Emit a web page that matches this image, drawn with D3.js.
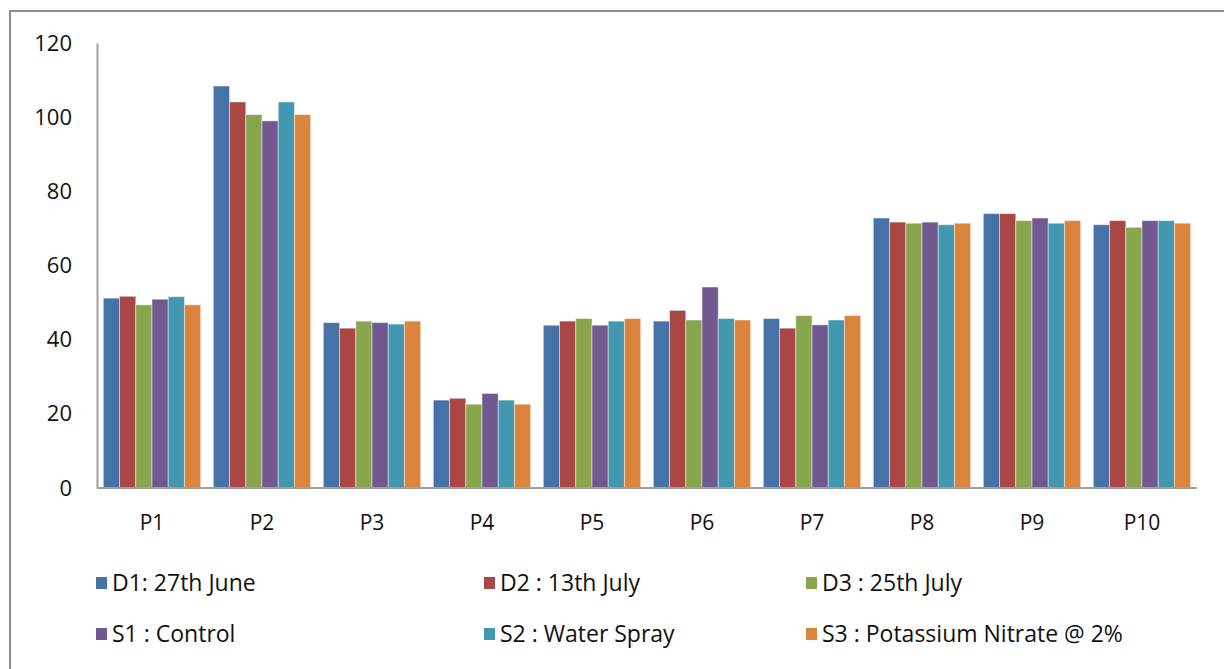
<!DOCTYPE html>
<html>
<head>
<meta charset="utf-8">
<script src="https://cdn.jsdelivr.net/npm/d3@7/dist/d3.min.js"></script>
<style>
	body { margin:0; background:#fff; }
	svg text { font-family: "Open Sans", "Liberation Sans", sans-serif; fill:#111; }
</style>
</head>
<body>
<svg id="CHART" width="1224" height="669"></svg>
<script>
// categories / series
var categories = ["P1","P2","P3","P4","P5","P6","P7","P8","P9","P10"];
var seriesNames = ["D1: 27th June","D2 : 13th July","D3 : 25th July","S1 : Control","S2 : Water Spray","S3 : Potassium Nitrate @ 2%"];
var seriesColors = ["#4572A7","#AA4643","#89A54E","#71588F","#4198AF","#DB843D"];
var yTicks = [0,20,40,60,80,100,120];

// (named valD1.. so the D3 series does not shadow the d3 library)
var valD1 = [51.2, 108.4, 44.6, 23.7, 43.9, 45.0, 45.7, 72.8, 74.0, 71.0];
var valD2 = [51.7, 104.1, 43.1, 24.2, 45.0, 47.9, 43.1, 71.7, 74.0, 72.1];
var valD3 = [49.4, 100.7, 45.0, 22.6, 45.7, 45.3, 46.5, 71.4, 72.1, 70.3];
var valS1 = [50.9, 99.0, 44.6, 25.5, 43.9, 54.2, 44.0, 71.7, 72.8, 72.1];
var valS2 = [51.6, 104.1, 44.2, 23.7, 45.0, 45.7, 45.3, 71.0, 71.4, 72.1];
var valS3 = [49.4, 100.7, 45.0, 22.6, 45.7, 45.3, 46.5, 71.4, 72.1, 71.4];
var seriesValues = [valD1, valD2, valD3, valS1, valS2, valS3];

var svg = d3.select("#CHART");

// outer chart border
svg.append("rect")
	.attr("x", 10).attr("y", 11)
	.attr("width", 1230).attr("height", 680)
	.attr("fill", "none").attr("stroke", "#8c8c8c").attr("stroke-width", 2);

var x = d3.scaleBand()
	.domain(categories)
	.range([97, 1197])
	.paddingInner(0.115)
	.paddingOuter(0.0575);

var xs = d3.scaleBand()
	.domain(d3.range(seriesNames.length))
	.range([0, x.bandwidth()]);

var y = d3.scaleLinear()
	.domain([0, 120])
	.range([488, 43]);

// bars
var groups = svg.append("g").selectAll("g")
	.data(categories)
	.enter().append("g")
	.attr("transform", function(d){ return "translate(" + x(d) + ",0)"; });

groups.selectAll("rect")
	.data(function(d, i){
		return seriesValues.map(function(vals, s){ return {s:s, v:vals[i]}; });
	})
	.enter().append("rect")
	.attr("x", function(d){ return xs(d.s); })
	.attr("width", xs.bandwidth())
	.attr("y", function(d){ return y(d.v); })
	.attr("height", function(d){ return y(0) - y(d.v); })
	.attr("fill", function(d){ return seriesColors[d.s]; })
	.attr("stroke", "rgba(255,255,255,0.45)")
	.attr("stroke-width", 1);

// y axis
var yAxis = svg.append("g")
	.attr("transform", "translate(97,0)")
	.call(d3.axisLeft(y).tickValues(yTicks).tickSize(0).tickPadding(25));
yAxis.select(".domain").attr("stroke", "#a0a0a0").attr("stroke-width", 2);
yAxis.selectAll("text").style("font-size", "22px").attr("fill", "#111");

// x axis
var xAxis = svg.append("g")
	.attr("transform", "translate(0,488)")
	.call(d3.axisBottom(x).tickSize(0).tickPadding(27));
xAxis.select(".domain").attr("d", "M97,0H1197").attr("stroke", "#a0a0a0").attr("stroke-width", 2);
xAxis.selectAll("text").style("font-size", "21px").attr("fill", "#111");

// legend
var legendX = [96, 484, 806];
var legendY = [583, 634];
var legend = svg.append("g").selectAll("g")
	.data(seriesNames)
	.enter().append("g")
	.attr("transform", function(d, i){
		return "translate(" + legendX[i % 3] + "," + legendY[Math.floor(i / 3)] + ")";
	});
legend.append("rect")
	.attr("x", 0).attr("y", -6)
	.attr("width", 11).attr("height", 12)
	.attr("fill", function(d, i){ return seriesColors[i]; });
legend.append("text")
	.attr("x", 16).attr("y", 0)
	.attr("dy", "0.35em")
	.style("font-size", "23px")
	.text(function(d){ return d; });
</script>
</body>
</html>
